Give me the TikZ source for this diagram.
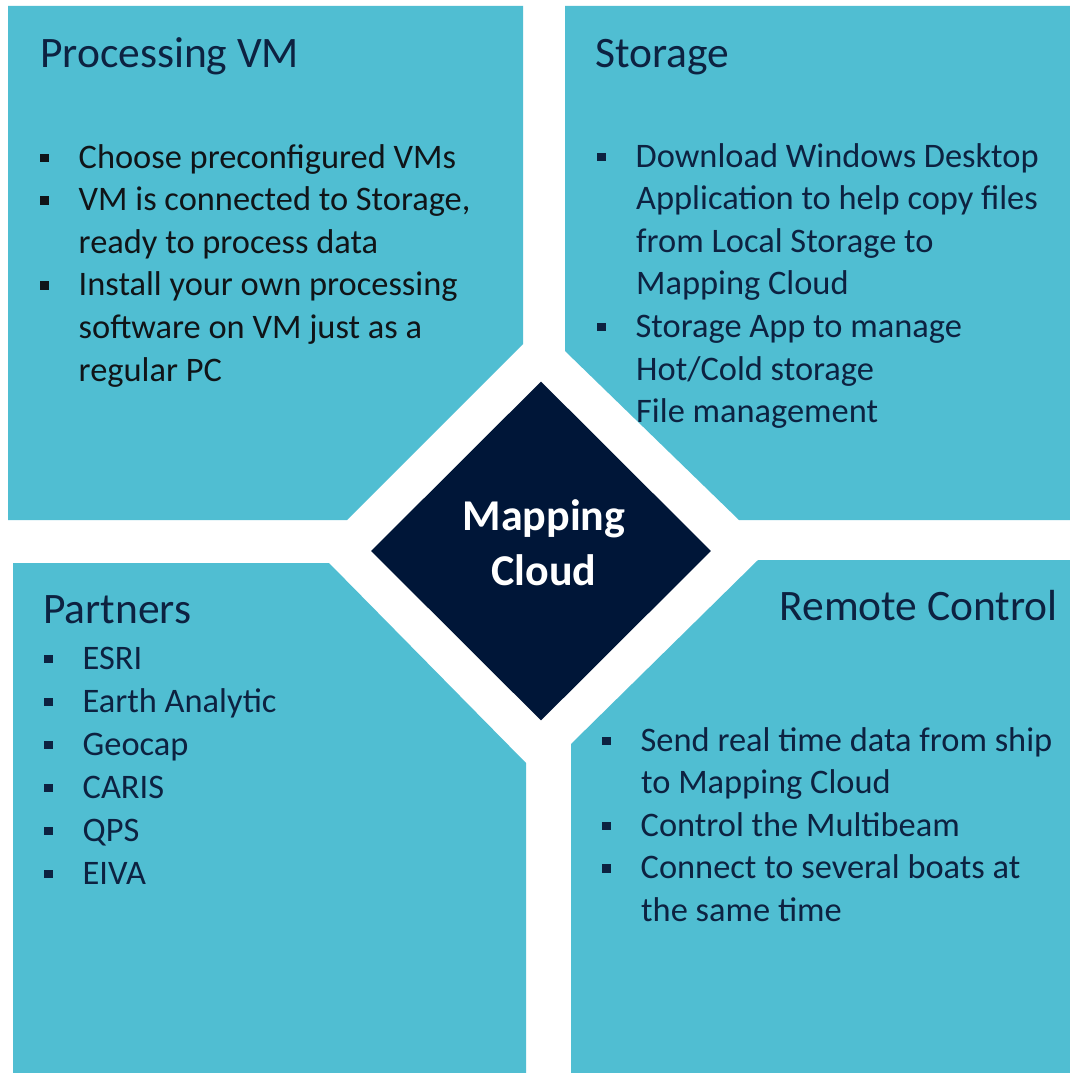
\documentclass[tikz,border=0pt]{standalone}
\usepackage{fontspec}
\setmainfont{Carlito}
\usetikzlibrary{shapes.geometric}
\definecolor{teal}{HTML}{50BED2}
\definecolor{navy}{HTML}{001638}
\definecolor{ink}{HTML}{0D2241}
\definecolor{blk}{HTML}{101418}
\newcommand{\bsq}{\makebox[38.5pt][l]{\rule[6pt]{8.5pt}{8.5pt}}}
\begin{document}
\begin{tikzpicture}[x=1pt,y=-1pt,
  ttl/.style={anchor=base west,inner sep=0pt,text=ink,font=\fontsize{43.5}{52}\selectfont},
  ln/.style={anchor=base west,inner sep=0pt,text=ink,font=\fontsize{34.4}{41}\selectfont},
  lnk/.style={ln,text=blk},
  mct/.style={anchor=base,inner sep=0pt,text=white,font=\fontsize{44}{52}\selectfont\bfseries}]
\useasboundingbox (0,0) rectangle (1070,1073);
\fill[white] (0,0) rectangle (1070,1073);
% panels
\fill[teal] (8,6) -- (523,6) -- (523,344) -- (347,520) -- (8,520) -- cycle;
\fill[teal] (565,6) -- (1070,6) -- (1070,520) -- (739,520) -- (565,351) -- cycle;
\fill[teal] (13,563) -- (329,563) -- (526,763) -- (526,1073) -- (13,1073) -- cycle;
\fill[teal] (571,744) -- (758,560) -- (1070,560) -- (1070,1073) -- (571,1073) -- cycle;
% centre diamond
\node[diamond,fill=navy,inner sep=0pt,minimum width=340pt,minimum height=339pt] (mc) at (541,551) {};
\node[mct] (mc1) at (544,530) {Mapping};
\node[mct] (mc2) at (544,585) {Cloud};
% Processing VM
\node[ttl] (t1) at (40,67) {Processing VM};
\node[lnk] (a1) at (40,168) {\bsq Choose preconfigured VMs};
\node[lnk] (a2) at (40,210.6) {\bsq VM is connected to Storage,};
\node[lnk] (a3) at (78.5,253.2) {ready to process data};
\node[lnk] (a4) at (40,295.8) {\bsq Install your own processing};
\node[lnk] (a5) at (78.5,338.4) {software on VM just as a};
\node[lnk] (a6) at (78.5,381) {regular PC};
% Storage
\node[ttl] (t2) at (595,67) {Storage};
\node[ln] (b1) at (597,167) {\bsq Download Windows Desktop};
\node[ln] (b2) at (636,209.6) {Application to help copy files};
\node[ln] (b3) at (636,252.2) {from Local Storage to};
\node[ln] (b4) at (636,294.8) {Mapping Cloud};
\node[ln] (b5) at (597,337.4) {\bsq Storage App to manage};
\node[ln] (b6) at (636,380) {Hot/Cold storage};
\node[ln] (b7) at (636,422.6) {File management};
% Partners
\node[ttl] (t3) at (43,623) {Partners};
\node[ln] (c1) at (44,669) {\bsq ESRI};
\node[ln] (c2) at (44,712) {\bsq Earth Analytic};
\node[ln] (c3) at (44,755) {\bsq Geocap};
\node[ln] (c4) at (44,798) {\bsq CARIS};
\node[ln] (c5) at (44,841) {\bsq QPS};
\node[ln] (c6) at (44,884) {\bsq EIVA};
% Remote Control
\node[ttl,anchor=base east] (t4) at (1058,620) {Remote Control};
\node[ln] (d1) at (602,751) {\bsq Send real time data from ship};
\node[ln] (d2) at (641,793.5) {to Mapping Cloud};
\node[ln] (d3) at (602,836) {\bsq Control the Multibeam};
\node[ln] (d4) at (602,878.5) {\bsq Connect to several boats at};
\node[ln] (d5) at (641,921) {the same time};
\end{tikzpicture}
\end{document}
